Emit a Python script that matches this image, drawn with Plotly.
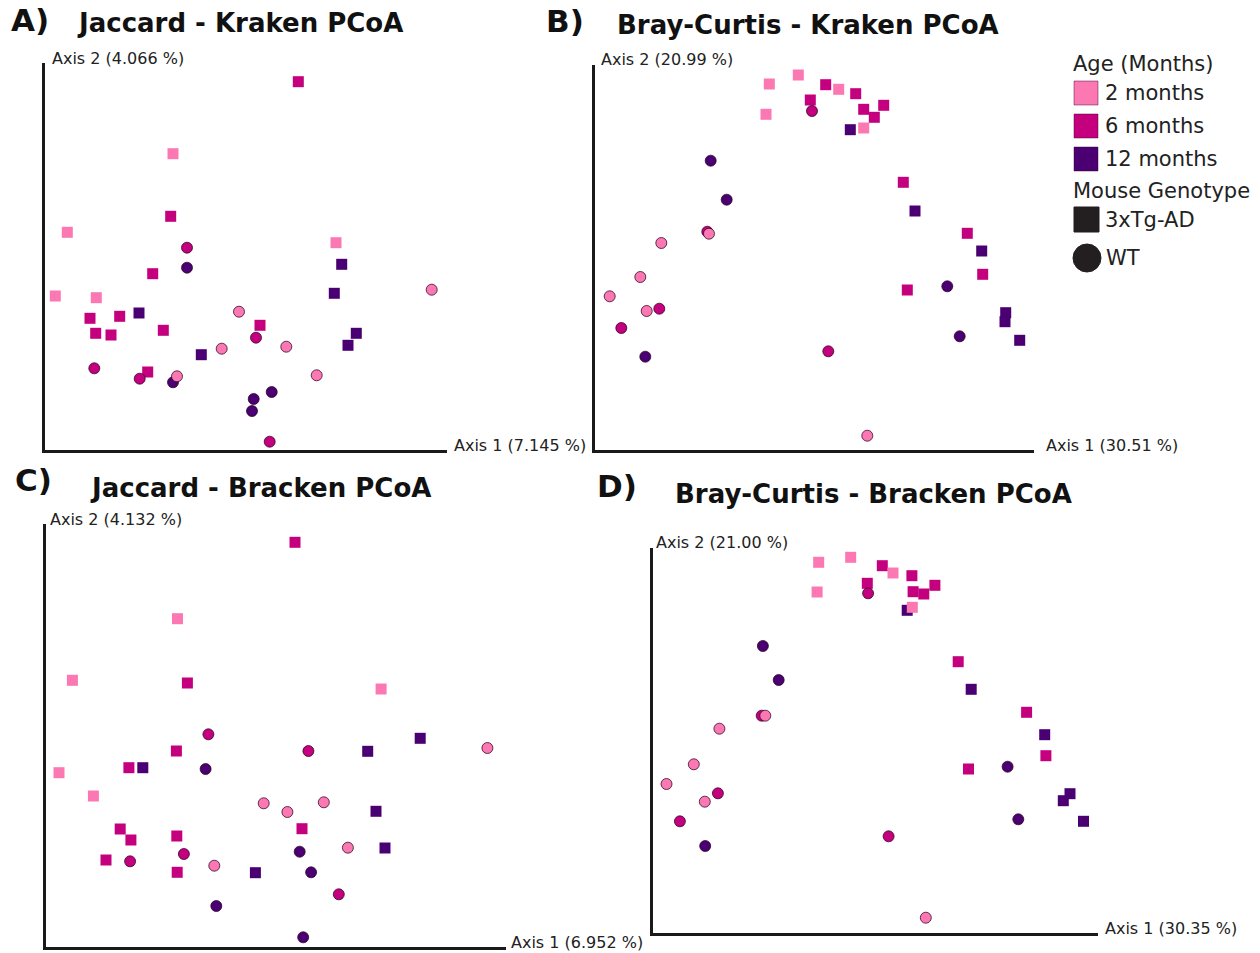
import plotly.graph_objects as go

W, H = 1260, 953

# ---------------- data (axis units) ----------------
AGES = ["2 months", "6 months", "12 months"]
AGE_COLORS = {"2 months": "#fb78b2", "6 months": "#c4007f", "12 months": "#4a0072"}
GENOS = ["3xTg-AD", "WT"]

# Panel A: Jaccard - Kraken
A_age = (["2 months"] * 5 + ["6 months"] * 10 + ["12 months"] * 6 +
         ["2 months"] * 6 + ["6 months"] * 5 + ["12 months"] * 5)
A_geno = ["3xTg-AD"] * 21 + ["WT"] * 16
A_x = [128, 22.3, 291, 10.3, 51.3,
       253.3, 125.7, 107.7, 45, 74.7, 50.7, 66, 118.3, 215, 102.7,
       296.7, 289.3, 94, 156.3, 311.3, 303,
       386.7, 194, 241.3, 176.7, 132, 271.7,
       142, 211, 49.3, 94.7, 224.7,
       142, 128, 208.7, 226.7, 207]
A_y = [296.3, 217.7, 207.3, 154, 152.3,
       368.3, 233.7, 176.3, 131.7, 133.7, 116.7, 115, 119.7, 124.7, 78,
       185.7, 156.7, 137, 95.3, 116.7, 104.7,
       160.3, 138.3, 103.3, 101.3, 73.7, 74.7,
       202.3, 112.3, 81.7, 71.3, 8.3,
       182.3, 67.7, 51, 58, 39]

# Panel B: Bray-Curtis - Kraken
B_age = A_age
B_geno = A_geno
B_x = [174.3, 203.3, 243.7, 171, 268.7,
       230.7, 260.7, 215.3, 268.7, 288.7, 279.3, 308.3, 372.3, 387.7, 312.3,
       255.3, 320, 386.7, 410.7, 410, 424.7,
       114, 66.3, 45.3, 14.7, 51.7, 272.3,
       217, 112.3, 64.3, 26.3, 233.3,
       115.7, 131.7, 50.3, 352.3, 364.7]
B_y = [366, 375, 360.7, 335.7, 322,
       365.3, 356.3, 350, 340.7, 344.7, 332.7, 267.7, 216.7, 175.7, 160,
       320.3, 239, 199, 137.3, 128.3, 109.7,
       216.3, 207, 173, 153.7, 139, 14.3,
       339, 218.3, 141.3, 122, 98.7,
       289.3, 250.3, 93.3, 163.7, 113.7]

# Panel C: Jaccard - Bracken
C_age = A_age
C_geno = A_geno
C_x = [131.5, 26.4, 335.1, 13, 47.4,
       249, 141.4, 130.4, 82.9, 74.2, 84.9, 130.8, 256, 60, 131.2,
       374.2, 321.7, 96.8, 330, 339, 209.4,
       441.4, 217.7, 241.4, 277.8, 301.9, 168.3,
       162.4, 262.4, 137.9, 84.1, 292.8,
       159.6, 253.7, 265.1, 170.3, 257.2]
C_y = [328.3, 266.7, 258, 174.3, 151,
       404.7, 264, 196, 179.3, 118, 107, 111, 118.3, 87, 74.7,
       208.7, 195.7, 179.3, 135.7, 99, 74.3,
       199, 143.7, 135, 144.7, 99.3, 81.3,
       212.7, 196, 93, 85.7, 52.7,
       178, 95.3, 74.7, 41, 9.7]

# Panel D: Bray-Curtis - Bracken
D_age = A_age
D_geno = A_geno
D_x = [165.7, 197.7, 240, 164.1, 259.3,
       229.3, 258.9, 214.3, 260.1, 270.8, 281.9, 305.2, 373.6, 392.9, 315.5,
       254.2, 318.2, 391.7, 417, 410.3, 430.5,
       112.3, 66.4, 40.8, 13.5, 51.8, 272.8,
       215.1, 108.7, 64.9, 26.9, 235.6,
       109.9, 125.7, 52.2, 354.6, 365.3]
D_y = [370.7, 375.7, 360, 341, 325.7,
       367.3, 357.3, 349.7, 341.3, 339, 347.7, 271.3, 220.7, 177.3, 164,
       322.7, 243.7, 198.3, 139.3, 132.3, 111.7,
       217.3, 204.3, 168.7, 149, 131.3, 15.3,
       339.7, 217.3, 139.7, 111.7, 96.7,
       287, 253, 87, 166.3, 113.7]

PANEL_LETTERS = ["A)", "B)", "C)", "D)"]
PANEL_TITLES = ["Jaccard - Kraken PCoA", "Bray-Curtis - Kraken PCoA",
                "Jaccard - Bracken PCoA", "Bray-Curtis - Bracken PCoA"]
AXIS1_LABELS = ["Axis 1 (7.145 %)", "Axis 1 (30.51 %)", "Axis 1 (6.952 %)", "Axis 1 (30.35 %)"]
AXIS2_LABELS = ["Axis 2 (4.066 %)", "Axis 2 (20.99 %)", "Axis 2 (4.132 %)", "Axis 2 (21.00 %)"]

# ---------------- layout geometry (pixels) ----------------
# (left, bottom, right, top) of each panel's axes
BOXES = [(45, 450, 447, 63), (595, 450, 1034, 65), (46, 947, 506, 524), (653, 933, 1098, 548)]
LETTER_POS = [(9, 20), (544, 21), (13, 480), (595, 486)]
TITLE_POS = [(75, 23), (615, 25), (88, 488), (673, 494)]
AX2_POS = [(50, 59), (599, 60), (48, 519), (654, 542)]
AX1_POS = [(452, 445), (1044, 445), (509, 942), (1103, 928)]

FONT = "DejaVu Sans"


def px(x):
    return x / W


def py(y):
    return 1 - y / H


fig = go.Figure()
panels = [(A_x, A_y, A_age, A_geno), (B_x, B_y, B_age, B_geno),
          (C_x, C_y, C_age, C_geno), (D_x, D_y, D_age, D_geno)]

annotations = []
layout_axes = {}
for i, (xs, ys, ages, genos) in enumerate(panels):
    n = i + 1
    xa = "x" if n == 1 else f"x{n}"
    ya = "y" if n == 1 else f"y{n}"
    l, b, r, t = BOXES[i]
    common = dict(showgrid=False, zeroline=False, showticklabels=False, ticks="",
                  showline=True, linecolor="#1a1a1a", linewidth=2.5, fixedrange=True)
    layout_axes["xaxis" if n == 1 else f"xaxis{n}"] = dict(
        domain=[px(l), px(r)], range=[0, r - l], anchor=ya, **common)
    layout_axes["yaxis" if n == 1 else f"yaxis{n}"] = dict(
        domain=[py(b), py(t)], range=[0, b - t], anchor=xa, **common)

    for age in ["12 months", "6 months", "2 months"]:
        for geno in GENOS:
            idx = [k for k in range(len(xs)) if ages[k] == age and genos[k] == geno]
            if not idx:
                continue
            if geno == "WT":
                marker = dict(symbol="circle", size=11, color=AGE_COLORS[age],
                              line=dict(color="rgba(45,0,35,0.75)", width=1))
            else:
                marker = dict(symbol="square", size=11, color=AGE_COLORS[age],
                              line=dict(width=0))
            fig.add_trace(go.Scatter(
                x=[xs[k] for k in idx], y=[ys[k] for k in idx], mode="markers",
                marker=marker, xaxis=xa, yaxis=ya, showlegend=False,
                name=f"{age} {geno}"))

    lx, ly = LETTER_POS[i]
    annotations.append(dict(x=px(lx), y=py(ly), xref="paper", yref="paper", text=f"<b>{PANEL_LETTERS[i]}</b>",
                            showarrow=False, xanchor="left", yanchor="middle",
                            font=dict(family=FONT, size=31, color="#111")))
    tx, ty = TITLE_POS[i]
    annotations.append(dict(x=px(tx), y=py(ty), xref="paper", yref="paper", text=f"<b>{PANEL_TITLES[i]}</b>",
                            showarrow=False, xanchor="left", yanchor="middle",
                            font=dict(family=FONT, size=26, color="#111")))
    ax, ay = AX2_POS[i]
    annotations.append(dict(x=px(ax), y=py(ay), xref="paper", yref="paper", text=AXIS2_LABELS[i],
                            showarrow=False, xanchor="left", yanchor="middle",
                            font=dict(family=FONT, size=16, color="#222")))
    bx, by = AX1_POS[i]
    annotations.append(dict(x=px(bx), y=py(by), xref="paper", yref="paper", text=AXIS1_LABELS[i],
                            showarrow=False, xanchor="left", yanchor="middle",
                            font=dict(family=FONT, size=16, color="#222")))

# ---------------- custom legend ----------------
shapes = []
LEG_X = 1071
leg_font = dict(family=FONT, size=21, color="#222")
annotations.append(dict(x=px(LEG_X), y=py(64), xref="paper", yref="paper", text="Age (Months)",
                        showarrow=False, xanchor="left", yanchor="middle", font=leg_font))
for j, age in enumerate(AGES):
    cy = 93 + 33 * j
    shapes.append(dict(type="rect", xref="paper", yref="paper",
                       x0=px(1074), x1=px(1098), y0=py(cy + 12), y1=py(cy - 12),
                       fillcolor=AGE_COLORS[age], line=dict(color="rgba(60,0,40,0.45)", width=1)))
    annotations.append(dict(x=px(1103), y=py(cy), xref="paper", yref="paper", text=age,
                            showarrow=False, xanchor="left", yanchor="middle", font=leg_font))
annotations.append(dict(x=px(LEG_X), y=py(191), xref="paper", yref="paper", text="Mouse Genotype",
                        showarrow=False, xanchor="left", yanchor="middle", font=leg_font))
shapes.append(dict(type="rect", xref="paper", yref="paper",
                   x0=px(1074), x1=px(1099), y0=py(232), y1=py(207),
                   fillcolor="#231f20", line=dict(color="#231f20", width=1)))
annotations.append(dict(x=px(1103), y=py(220), xref="paper", yref="paper", text="3xTg-AD",
                        showarrow=False, xanchor="left", yanchor="middle", font=leg_font))
shapes.append(dict(type="circle", xref="paper", yref="paper",
                   x0=px(1073), x1=px(1101), y0=py(272), y1=py(244),
                   fillcolor="#231f20", line=dict(color="#231f20", width=1)))
annotations.append(dict(x=px(1104), y=py(258), xref="paper", yref="paper", text="WT",
                        showarrow=False, xanchor="left", yanchor="middle", font=leg_font))

fig.update_layout(
    width=W, height=H,
    margin=dict(l=0, r=0, t=0, b=0),
    paper_bgcolor="white", plot_bgcolor="white",
    showlegend=False,
    annotations=annotations,
    shapes=shapes,
    **layout_axes,
)

fig.write_html("out.html", config={"displayModeBar": False},
               post_script="document.body.style.margin='0';document.body.style.overflow='hidden';")
